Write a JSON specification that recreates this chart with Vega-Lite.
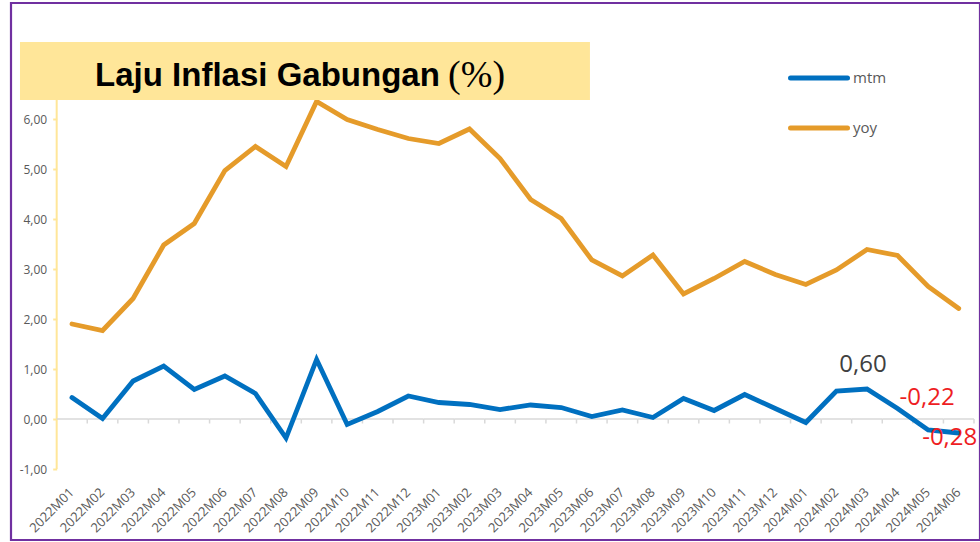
{
  "$schema": "https://vega.github.io/schema/vega-lite/v6.json",
  "autosize": {"type": "none"},
  "width": 969,
  "height": 537,
  "padding": {"left": 11, "top": 3, "right": 0, "bottom": 2},
  "background": "white",
  "config": {
    "font": "Open Sans",
    "view": {"stroke": null},
    "locale": {"number": {"decimal": ",", "thousands": ".", "grouping": [3], "currency": ["", ""], "minus": "-"}}
  },
  "datasets": {
    "ts": [
      {"month": "2022M01", "series": "mtm", "value": 0.43},
      {"month": "2022M02", "series": "mtm", "value": 0.01},
      {"month": "2022M03", "series": "mtm", "value": 0.76},
      {"month": "2022M04", "series": "mtm", "value": 1.06},
      {"month": "2022M05", "series": "mtm", "value": 0.59},
      {"month": "2022M06", "series": "mtm", "value": 0.86},
      {"month": "2022M07", "series": "mtm", "value": 0.51},
      {"month": "2022M08", "series": "mtm", "value": -0.38},
      {"month": "2022M09", "series": "mtm", "value": 1.19},
      {"month": "2022M10", "series": "mtm", "value": -0.11},
      {"month": "2022M11", "series": "mtm", "value": 0.15},
      {"month": "2022M12", "series": "mtm", "value": 0.46},
      {"month": "2023M01", "series": "mtm", "value": 0.33},
      {"month": "2023M02", "series": "mtm", "value": 0.29},
      {"month": "2023M03", "series": "mtm", "value": 0.19},
      {"month": "2023M04", "series": "mtm", "value": 0.28},
      {"month": "2023M05", "series": "mtm", "value": 0.23},
      {"month": "2023M06", "series": "mtm", "value": 0.05},
      {"month": "2023M07", "series": "mtm", "value": 0.18},
      {"month": "2023M08", "series": "mtm", "value": 0.03},
      {"month": "2023M09", "series": "mtm", "value": 0.41},
      {"month": "2023M10", "series": "mtm", "value": 0.17},
      {"month": "2023M11", "series": "mtm", "value": 0.49},
      {"month": "2023M12", "series": "mtm", "value": 0.21},
      {"month": "2024M01", "series": "mtm", "value": -0.07},
      {"month": "2024M02", "series": "mtm", "value": 0.56},
      {"month": "2024M03", "series": "mtm", "value": 0.60},
      {"month": "2024M04", "series": "mtm", "value": 0.21},
      {"month": "2024M05", "series": "mtm", "value": -0.22},
      {"month": "2024M06", "series": "mtm", "value": -0.28},
      {"month": "2022M01", "series": "yoy", "value": 1.90},
      {"month": "2022M02", "series": "yoy", "value": 1.77},
      {"month": "2022M03", "series": "yoy", "value": 2.41},
      {"month": "2022M04", "series": "yoy", "value": 3.48},
      {"month": "2022M05", "series": "yoy", "value": 3.91},
      {"month": "2022M06", "series": "yoy", "value": 4.97},
      {"month": "2022M07", "series": "yoy", "value": 5.45},
      {"month": "2022M08", "series": "yoy", "value": 5.05},
      {"month": "2022M09", "series": "yoy", "value": 6.35},
      {"month": "2022M10", "series": "yoy", "value": 5.99},
      {"month": "2022M11", "series": "yoy", "value": 5.79},
      {"month": "2022M12", "series": "yoy", "value": 5.61},
      {"month": "2023M01", "series": "yoy", "value": 5.51},
      {"month": "2023M02", "series": "yoy", "value": 5.80},
      {"month": "2023M03", "series": "yoy", "value": 5.21},
      {"month": "2023M04", "series": "yoy", "value": 4.39},
      {"month": "2023M05", "series": "yoy", "value": 4.01},
      {"month": "2023M06", "series": "yoy", "value": 3.18},
      {"month": "2023M07", "series": "yoy", "value": 2.86},
      {"month": "2023M08", "series": "yoy", "value": 3.28},
      {"month": "2023M09", "series": "yoy", "value": 2.50},
      {"month": "2023M10", "series": "yoy", "value": 2.81},
      {"month": "2023M11", "series": "yoy", "value": 3.15},
      {"month": "2023M12", "series": "yoy", "value": 2.89},
      {"month": "2024M01", "series": "yoy", "value": 2.69},
      {"month": "2024M02", "series": "yoy", "value": 2.98},
      {"month": "2024M03", "series": "yoy", "value": 3.39},
      {"month": "2024M04", "series": "yoy", "value": 3.27},
      {"month": "2024M05", "series": "yoy", "value": 2.65},
      {"month": "2024M06", "series": "yoy", "value": 2.21}
    ]
  },
  "layer": [
    {
      "data": {"values": [{}]},
      "mark": {"type": "rule", "color": "#FFE699", "strokeWidth": 2},
      "encoding": {
        "x": {"datum": "2022M01", "type": "ordinal", "bandPosition": 0},
        "y": {"datum": -1, "type": "quantitative"},
        "y2": {"datum": 7.4}
      }
    },
    {
      "data": {"name": "ts"},
      "transform": [{"filter": "datum.series == 'mtm'"}],
      "mark": {"type": "rect", "fillOpacity": 0, "stroke": "#D9D9D9", "strokeWidth": 1.5},
      "encoding": {
        "x": {"field": "month", "type": "ordinal"},
        "y": {"datum": 0, "type": "quantitative"},
        "y2": {"datum": 0}
      }
    },
    {
      "data": {"name": "ts"},
      "transform": [{"filter": "datum.series == 'mtm' && datum.month != '2022M01'"}],
      "mark": {"type": "rule", "color": "#D9D9D9", "strokeWidth": 1.5},
      "encoding": {
        "x": {"field": "month", "type": "ordinal", "bandPosition": 0},
        "y": {"datum": 0, "type": "quantitative"},
        "y2": {"datum": -0.09}
      }
    },
    {
      "data": {"values": [{}]},
      "mark": {"type": "rule", "color": "#D9D9D9", "strokeWidth": 1.5},
      "encoding": {
        "x": {"datum": "2024M06", "type": "ordinal", "bandPosition": 1},
        "y": {"datum": 0, "type": "quantitative"},
        "y2": {"datum": -0.09}
      }
    },
    {
      "data": {"name": "ts"},
      "mark": {"type": "line", "strokeWidth": 4.8, "strokeCap": "round"},
      "encoding": {
        "x": {
          "field": "month", "type": "ordinal", "bandPosition": 0.5,
          "scale": {"type": "band", "paddingInner": 0, "paddingOuter": 0.845, "align": 0.884},
          "axis": {"title": null, "orient": "bottom", "offset": -54, "labelAngle": -45, "labelAlign": "right", "labelBaseline": "middle", "labelPadding": 4, "ticks": false, "domain": false, "grid": false, "labelFontSize": 13, "labelColor": "#595959", "labelOverlap": false, "labelFlush": false}
        },
        "y": {
          "field": "value", "type": "quantitative",
          "scale": {"domain": [-2.42, 8.32], "nice": false, "zero": false},
          "axis": {"title": null, "offset": -45.7, "values": [-1, 0, 1, 2, 3, 4, 5, 6], "format": ".2f", "domain": false, "grid": false, "tickColor": "#FFE699", "tickSize": 4, "tickWidth": 2, "labelPadding": 6, "labelFontSize": 12, "labelColor": "#595959"}
        },
        "color": {
          "field": "series", "type": "nominal",
          "scale": {"domain": ["mtm", "yoy"], "range": ["#0070C0", "#E59B2A"]},
          "legend": {"title": null, "orient": "none", "legendX": 777, "legendY": 65, "symbolType": "stroke", "symbolSize": 3249, "symbolStrokeWidth": 5, "labelFontSize": 15, "labelColor": "#595959", "labelOffset": 3, "clipHeight": 20, "rowPadding": 30, "padding": 0,
            "encode": {"symbols": {"update": {"strokeCap": {"value": "round"}}}}}
        }
      }
    },
    {
      "data": {"values": [{}]},
      "mark": {"type": "rect", "color": "#FFE699", "xOffset": -36.7},
      "encoding": {
        "x": {"datum": "2022M01", "type": "ordinal", "bandPosition": 0},
        "x2": {"datum": "2023M06", "bandPosition": 0.44},
        "y": {"datum": 7.54, "type": "quantitative"},
        "y2": {"datum": 6.38}
      }
    },
    {
      "data": {"values": [{}]},
      "mark": {"type": "text", "text": "Laju Inflasi Gabungan", "font": "Liberation Sans", "fontWeight": "bold", "fontSize": 33, "align": "right", "baseline": "alphabetic", "color": "#000000"},
      "encoding": {
        "x": {"datum": "2023M01", "type": "ordinal", "bandPosition": 0.53},
        "y": {"datum": 6.67, "type": "quantitative"}
      }
    },
    {
      "data": {"values": [{}]},
      "mark": {"type": "text", "text": "(%)", "font": "Liberation Serif", "fontSize": 38, "align": "left", "baseline": "alphabetic", "color": "#000000"},
      "encoding": {
        "x": {"datum": "2023M01", "type": "ordinal", "bandPosition": 0.8},
        "y": {"datum": 6.65, "type": "quantitative"}
      }
    },
    {
      "data": {"name": "ts"},
      "transform": [{"filter": "datum.series == 'mtm' && datum.month == '2024M03'"}],
      "mark": {"type": "text", "fontSize": 24, "color": "#404040", "dx": -4, "dy": -17, "baseline": "alphabetic"},
      "encoding": {
        "x": {"field": "month", "type": "ordinal", "bandPosition": 0.5},
        "y": {"field": "value", "type": "quantitative"},
        "text": {"field": "value", "type": "quantitative", "format": ".2f"}
      }
    },
    {
      "data": {"name": "ts"},
      "transform": [{"filter": "datum.series == 'mtm' && datum.month == '2024M05'"}],
      "mark": {"type": "text", "fontSize": 24, "color": "#EE1D23", "dx": -1, "dy": -25, "baseline": "alphabetic"},
      "encoding": {
        "x": {"field": "month", "type": "ordinal", "bandPosition": 0.5},
        "y": {"field": "value", "type": "quantitative"},
        "text": {"field": "value", "type": "quantitative", "format": ".2f"}
      }
    },
    {
      "data": {"name": "ts"},
      "transform": [{"filter": "datum.series == 'mtm' && datum.month == '2024M06'"}],
      "mark": {"type": "text", "fontSize": 24, "color": "#EE1D23", "dx": -9, "dy": 12, "baseline": "alphabetic"},
      "encoding": {
        "x": {"field": "month", "type": "ordinal", "bandPosition": 0.5},
        "y": {"field": "value", "type": "quantitative"},
        "text": {"field": "value", "type": "quantitative", "format": ".2f"}
      }
    },
    {
      "data": {"values": [{}]},
      "mark": {"type": "rect", "fillOpacity": 0, "stroke": "#7030A0", "strokeWidth": 2.2, "x2Offset": 8},
      "encoding": {}
    }
  ]
}
